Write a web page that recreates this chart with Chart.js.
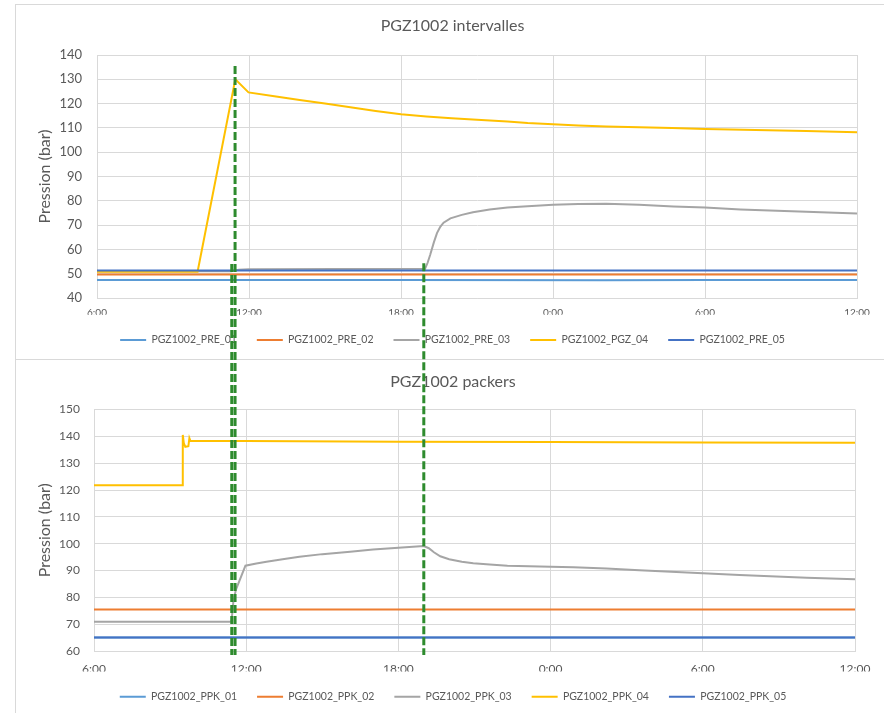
<!DOCTYPE html>
<html>
<head>
<meta charset="utf-8">
<script src="https://cdn.jsdelivr.net/npm/chart.js@4.4.1/dist/chart.umd.min.js"></script>
<style>
    body { margin: 0; background: #fff; width: 884px; height: 713px; overflow: hidden; position: relative; }
    .frame { position: absolute; border: 1px solid #d9d9d9; box-sizing: border-box; }
    .box { position: absolute; }
    #overlay { position: absolute; left: 0; top: 0; pointer-events: none; }
</style>
</head>
<body>
<div class="frame" style="left:15px; top:4px; width:870px; height:356px;"></div>
<div class="frame" style="left:15px; top:359px; width:880px; height:370px;"></div>
<div class="box" style="left:15px; top:4px;"><canvas id="chartTop" width="869" height="355"></canvas></div>
<div class="box" style="left:15px; top:359px;"><canvas id="chartBottom" width="869" height="354"></canvas></div>
<canvas id="overlay" width="884" height="713"></canvas>
<script>
// hours counted from 6:00 on day 1
const xTicks = [0, 6, 12, 18, 24, 30];
const xLabels = ['6:00', '12:00', '18:00', '0:00', '6:00', '12:00'];

const preLabels = ['PGZ1002_PRE_01', 'PGZ1002_PRE_02', 'PGZ1002_PRE_03', 'PGZ1002_PGZ_04', 'PGZ1002_PRE_05'];
const ppkLabels = ['PGZ1002_PPK_01', 'PGZ1002_PPK_02', 'PGZ1002_PPK_03', 'PGZ1002_PPK_04', 'PGZ1002_PPK_05'];
const colors = ['#5B9BD5', '#ED7D31', '#A5A5A5', '#FFC000', '#4472C4'];

const pre01 = [[0, 47.4], [12, 47.4], [20, 47.3], [24, 47.4], [30, 47.4]];
const pre02 = [[0, 49.7], [30, 49.7]];
const pre03 = [[0, 51.0], [5.3, 51.0], [5.6, 51.6], [6, 51.8], [12.95, 52.0], [13.05, 54.5], [13.15, 57.7],
    [13.3, 63.0], [13.42, 66.7], [13.55, 69.3], [13.68, 71.0], [13.95, 72.8], [14.4, 74.2], [14.84, 75.3],
    [15.5, 76.4], [16.2, 77.2], [17, 77.8], [17.5, 78.1], [18, 78.4], [19, 78.7], [20.1, 78.8], [21.4, 78.4],
    [22.75, 77.7], [24, 77.2], [25.4, 76.4], [28, 75.5], [30, 74.8]];
const pgz04 = [[0, 50.8], [3.97, 50.8], [5.46, 130], [5.98, 124.6], [7, 123.0], [8, 121.5], [9, 120.0],
    [10, 118.5], [11, 117.0], [12, 115.6], [13, 114.7], [14, 114.0], [15, 113.4], [16.2, 112.6], [17, 112.0],
    [18, 111.5], [19, 111.0], [20.1, 110.6], [21.4, 110.3], [22.7, 110.0], [24, 109.5], [26, 109.1],
    [28, 108.7], [30, 108.2]];
const pre05 = [[0, 51.3], [30, 51.3]];

const ppk01 = [[0, 65], [30, 65]];
const ppk02 = [[0, 75.5], [30, 75.5]];
const ppk03 = [[0, 70.9], [5.42, 70.9], [5.5, 79], [5.6, 83], [5.97, 91.8], [6.4, 92.6], [6.8, 93.3], [7.5, 94.3],
    [8.1, 95.1], [9, 96.1], [10.1, 97.0], [11, 97.8], [12, 98.5], [13, 99.1], [13.2, 98.3], [13.4, 96.8],
    [13.65, 95.3], [14, 94.2], [14.5, 93.3], [14.95, 92.7], [15.6, 92.2], [16.3, 91.8], [18, 91.4], [18.9, 91.2],
    [20.2, 90.7], [21.5, 90.1], [24, 89.0], [25.45, 88.3], [28.1, 87.3], [30, 86.7]];
const ppk04 = [[0, 121.8], [3.48, 121.8], [3.5, 140.5], [3.54, 137.5], [3.6, 136.1], [3.72, 136.3], [3.76, 139.3],
    [3.8, 138.3], [6, 138.3], [12, 138.0], [18, 137.9], [24, 137.7], [30, 137.6]];
const ppk05 = [[0, 65], [30, 65]];

// green dashed markers: time, top value on upper chart, bottom value on lower chart
const markerTimes = [5.45, 5.32, 12.9];
const markerTopValues = [135.5, 54.0, 54.3];
const markerBottomValue = 58.5;

Chart.defaults.font.family = 'Lato';
Chart.defaults.color = '#595959';

function makeDatasets(labels, series) {
    return series.map((s, i) => ({
        label: labels[i],
        data: s,
        borderColor: colors[i],
        backgroundColor: colors[i],
        borderWidth: 2,
        pointRadius: 0,
        tension: 0,
        order: 5 - i,
    }));
}

function makeConfig(title, labels, series, opt) {
    return {
        type: 'line',
        data: { datasets: makeDatasets(labels, series) },
        options: {
            responsive: false,
            animation: false,
            layout: { padding: opt.padding },
            plugins: {
                tooltip: { enabled: false },
                title: {
                    display: true,
                    text: title,
                    font: { size: 16, weight: 'normal' },
                    padding: opt.titlePadding,
                },
                legend: {
                    position: 'bottom',
                    labels: {
                        usePointStyle: true,
                        pointStyle: 'line',
                        pointStyleWidth: 26,
                        padding: 20,
                        font: { size: 10.5 },
                        sort: (a, b) => a.datasetIndex - b.datasetIndex,
                    },
                },
            },
            scales: {
                x: {
                    type: 'linear',
                    min: 0,
                    max: 30,
                    afterBuildTicks: s => { s.ticks = xTicks.map(v => ({ value: v })); },
                    ticks: {
                        callback: (v) => xLabels[xTicks.indexOf(v)],
                        font: { size: opt.xFont },
                        padding: opt.xPad,
                        maxRotation: 0,
                    },
                    grid: { color: '#d9d9d9', drawTicks: false },
                    border: { color: '#d9d9d9' },
                    afterFit: s => { s.height = opt.xHeight; },
                },
                y: {
                    min: opt.yMin,
                    max: opt.yMax,
                    ticks: { stepSize: 10, font: { size: opt.yFont }, padding: opt.yPad },
                    grid: { color: '#d9d9d9', drawTicks: false },
                    border: { color: '#d9d9d9' },
                    title: {
                        display: true,
                        text: 'Pression (bar)',
                        font: { size: 16 },
                        padding: { top: opt.yTitlePad, bottom: 0 },
                    },
                    afterFit: s => { s.width = opt.yWidth; },
                },
                y2: {
                    position: 'right',
                    grid: { display: false },
                    border: { display: false },
                    ticks: { display: false },
                    afterFit: s => { s.width = opt.rightWidth; },
                },
            },
        },
    };
}

const chartTop = new Chart(document.getElementById('chartTop'), makeConfig(
    'PGZ1002 intervalles', preLabels, [pre01, pre02, pre03, pgz04, pre05], {
        padding: { left: 6, right: 0, top: 0, bottom: 3.75 },
        titlePadding: { top: 12.4, bottom: 19.4 },
        xFont: 10, xPad: 9, xHeight: 16.75,
        yFont: 13, yPad: 15, yWidth: 76, yTitlePad: 14.4,
        yMin: 40, yMax: 140, rightWidth: 27,
    }));

const chartBottom = new Chart(document.getElementById('chartBottom'), makeConfig(
    'PGZ1002 packers', ppkLabels, [ppk01, ppk02, ppk03, ppk04, ppk05], {
        padding: { left: 7, right: 0, top: 0, bottom: 1 },
        titlePadding: { top: 13.1, bottom: 18.2 },
        xFont: 12, xPad: 11, xHeight: 20.5,
        yFont: 12, yPad: 14, yWidth: 72, yTitlePad: 13.4,
        yMin: 60, yMax: 150, rightWidth: 29,
    }));

function drawMarkers() {
    const ctx = document.getElementById('overlay').getContext('2d');
    ctx.strokeStyle = '#2E8B2E';
    ctx.lineWidth = 3;
    ctx.setLineDash([8, 3]);
    markerTimes.forEach((t, i) => {
        const x = 15 + chartTop.scales.x.getPixelForValue(t);
        const y1 = 4 + chartTop.scales.y.getPixelForValue(markerTopValues[i]);
        const y2 = 359 + chartBottom.scales.y.getPixelForValue(markerBottomValue);
        ctx.beginPath();
        ctx.moveTo(x, y1);
        ctx.lineTo(x, y2);
        ctx.stroke();
    });
}
drawMarkers();
</script>
</body>
</html>
